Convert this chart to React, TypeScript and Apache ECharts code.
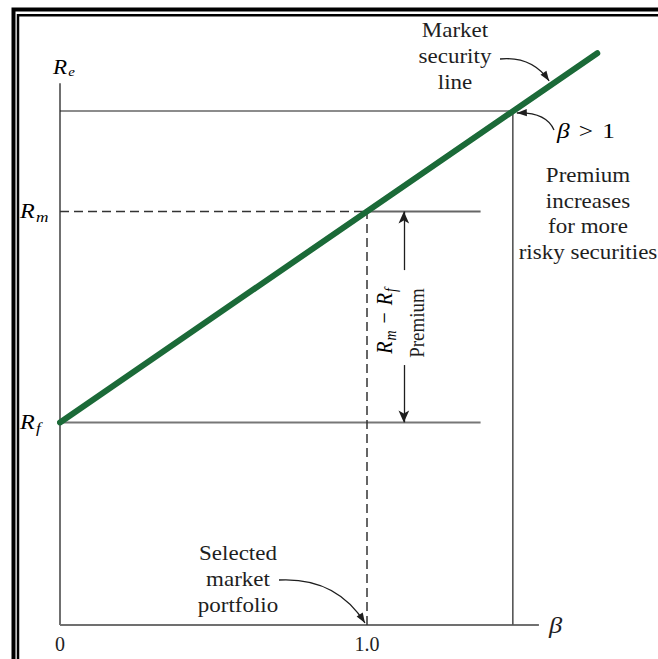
import React, { useEffect, useRef } from "react";
import * as echarts from "echarts";

// ---- data ----
const betaTickValues = [0, 1];
const betaTickLabels = ["0", "1.0"];
const betaAxisEnd = 1.56;
const returnAxisEnd = 12.84;
const betaScaleMax = 1.8;
const returnScaleMax = 14;
const riskFreeReturn = 4.8;
const marketReturn = 9.8;
const marketBeta = 1.0;
const highBeta = 1.475;
const highBetaReturn = 12.18;
const smlPoints: [number, number][] = [
  [0, 4.8],
  [1.75, 13.55],
];
const levelLineEnd = 1.37;
const premiumArrowBeta = 1.12;
const premiumArrowGapTop = 8.41;
const premiumArrowGapBottom = 6.16;
const smlArrowBeta = 1.59;
const smlArrowReturn = 12.75;

const FONT = "'Liberation Serif', 'Times New Roman', 'DejaVu Serif', serif";
const INK = "#1e1e1e";
const SX = 1.15;

const mathRich = (size: number, subSize: number, drop: number, gap = 6) => ({
  r: { fontFamily: FONT, fontStyle: "italic", fontSize: size, color: INK },
  s: { fontFamily: FONT, fontStyle: "italic", fontSize: subSize, color: INK, padding: [drop, 0, 0, 1] },
  n: { fontFamily: FONT, fontSize: size, color: INK, padding: [0, gap, 0, gap] },
});

function arrowHead(tx: number, ty: number, fx: number, fy: number, len = 10, half = 3.6) {
  const dx = tx - fx, dy = ty - fy;
  const d = Math.hypot(dx, dy) || 1;
  const ux = dx / d, uy = dy / d;
  const bx = tx - ux * len, by = ty - uy * len;
  return {
    type: "polygon",
    silent: true,
    z: 20,
    shape: { points: [[tx, ty], [bx - uy * half, by + ux * half], [bx + uy * half, by - ux * half]] },
    style: { fill: INK },
  };
}

function curvedArrow(sx: number, sy: number, cx: number, cy: number, tx: number, ty: number) {
  return [
    {
      type: "bezierCurve",
      silent: true,
      z: 20,
      shape: { x1: sx, y1: sy, cpx1: cx, cpy1: cy, x2: tx, y2: ty },
      style: { stroke: INK, lineWidth: 1.3, fill: null },
    },
    arrowHead(tx, ty, cx, cy),
  ];
}

const seg = (pts: [number, number][], color: string, width: number, dashed = false, z = 3) => ({
  type: "line",
  data: pts,
  showSymbol: false,
  symbol: "none",
  silent: true,
  animation: false,
  z,
  lineStyle: { color, width, type: dashed ? [9, 5] : "solid" },
});

export default function App() {
  const ref = useRef<HTMLDivElement>(null);
  useEffect(() => {
    const chart = echarts.init(ref.current!, null, { renderer: "svg" });
    const option: any = {
      animation: false,
      backgroundColor: "#fff",
      grid: { left: 60, top: 34.2, right: 45.4, bottom: 34, containLabel: false },
      xAxis: {
        type: "value",
        min: 0,
        max: betaScaleMax,
        interval: 0.5,
        axisLine: { show: false },
        axisTick: { show: false },
        splitLine: { show: false },
        axisLabel: {
          margin: 9,
          fontFamily: FONT,
          fontSize: 20,
          color: INK,
          showMaxLabel: false,
          formatter: (v: number) => {
            const i = betaTickValues.findIndex((t) => Math.abs(t - v) < 1e-9);
            return i >= 0 ? betaTickLabels[i] : "";
          },
        },
      },
      yAxis: {
        type: "value",
        min: 0,
        max: returnScaleMax,
        axisLine: { show: false },
        axisTick: { show: false },
        splitLine: { show: false },
        axisLabel: { show: false },
      },
      series: [
        seg([[0, 0], [betaAxisEnd, 0]], "#707070", 2),
        seg([[0, 0], [0, returnAxisEnd]], "#707070", 2),
        seg([[0, highBetaReturn], [highBeta, highBetaReturn]], "#1a1a1a", 1.2),
        seg([[highBeta, 0], [highBeta, highBetaReturn]], "#555", 1.6),
        seg([[0, marketReturn], [marketBeta, marketReturn]], "#333", 1.5, true),
        seg([[marketBeta, marketReturn], [levelLineEnd, marketReturn]], "#666", 2),
        seg([[0, riskFreeReturn], [levelLineEnd, riskFreeReturn]], "#777", 2),
        seg([[marketBeta, 0], [marketBeta, marketReturn]], "#333", 1.5, true),
        {
          type: "line",
          data: [],
          silent: true,
          markLine: {
            silent: true,
            animation: false,
            symbol: ["none", "arrow"],
            symbolSize: [8, 12],
            label: { show: false },
            lineStyle: { color: INK, width: 1.3, type: "solid" },
            data: [
              [{ coord: [premiumArrowBeta, premiumArrowGapTop] }, { coord: [premiumArrowBeta, marketReturn] }],
              [{ coord: [premiumArrowBeta, premiumArrowGapBottom] }, { coord: [premiumArrowBeta, riskFreeReturn] }],
            ],
          },
        },
        {
          type: "line",
          data: smlPoints,
          showSymbol: false,
          symbol: "none",
          silent: true,
          z: 6,
          lineStyle: { color: "#1b6a38", width: 6, cap: "round" },
        },
      ],
    };
    chart.setOption(option);

    const px = (p: [number, number]) => chart.convertToPixel({ gridIndex: 0 }, p) as number[];
    const origin = px([0, 0]);
    const xEnd = px([betaAxisEnd, 0]);
    const yEnd = px([0, returnAxisEnd]);
    const rm = px([0, marketReturn]);
    const rf = px([0, riskFreeReturn]);
    const hi = px([highBeta, highBetaReturn]);
    const mk = px([marketBeta, 0]);
    const sm = px([smlArrowBeta, smlArrowReturn]);
    const pa = px([premiumArrowBeta, (marketReturn + riskFreeReturn) / 2]);

    const block = (x: number, y: number, text: string, size: number) => ({
      type: "text",
      silent: true,
      x,
      y,
      scaleX: SX,
      style: { text, fontFamily: FONT, fontSize: size, fill: INK, lineHeight: 26, align: "center", verticalAlign: "middle" },
    });

    const graphic: any[] = [
      // double frame
      { type: "rect", silent: true, z: 30, shape: { x: 13.5, y: 9.5, width: 700, height: 700 }, style: { fill: null, stroke: "#000", lineWidth: 4 } },
      { type: "rect", silent: true, z: 30, shape: { x: 18, y: 15.2, width: 700, height: 700 }, style: { fill: null, stroke: "#000", lineWidth: 2.5 } },
      // axis names
      { type: "text", silent: true, x: origin[0] - 7, y: yEnd[1] - 16, scaleX: SX, style: { text: "{r|R}{s|e}", rich: mathRich(20, 13, 10), align: "left", verticalAlign: "middle" } },
      { type: "text", silent: true, x: xEnd[0] + 10, y: xEnd[1], scaleX: SX, style: { text: "β", fontFamily: FONT, fontStyle: "italic", fontSize: 23, fill: INK, align: "left", verticalAlign: "middle" } },
      // y labels
      { type: "text", silent: true, x: 20, y: rm[1], scaleX: SX, style: { text: "{r|R}{s|m}", rich: mathRich(21, 15, 11), align: "left", verticalAlign: "middle" } },
      { type: "text", silent: true, x: 20, y: rf[1], scaleX: SX, style: { text: "{r|R}{s|f}", rich: mathRich(21, 15, 11), align: "left", verticalAlign: "middle" } },
      // premium rotated labels
      { type: "text", silent: true, x: pa[0] - 19, y: pa[1] + 4, rotation: Math.PI / 2, scaleY: SX, style: { text: "{r|R}{s|m}{n|−}{r|R}{s|f}", rich: mathRich(20, 14, 10, 7), align: "center", verticalAlign: "middle" } },
      { type: "text", silent: true, x: pa[0] + 13, y: pa[1] + 6, rotation: Math.PI / 2, scaleY: SX, style: { text: "Premium", fontFamily: FONT, fontSize: 19, fill: INK, align: "center", verticalAlign: "middle" } },
      // annotations
      block(455, 57, "Market\nsecurity\nline", 20),
      { type: "text", silent: true, x: 557, y: 131, scaleX: SX, style: { text: "{b|β}{n|>}{d|1}", rich: { b: { fontFamily: FONT, fontStyle: "italic", fontSize: 22, color: INK }, n: { fontFamily: FONT, fontSize: 22, color: INK, padding: [0, 8, 0, 8] }, d: { fontFamily: FONT, fontSize: 22, color: INK } }, align: "left", verticalAlign: "middle" } },
      block(588, 214, "Premium\nincreases\nfor more\nrisky securities", 20),
      block(238, 580, "Selected\nmarket\nportfolio", 20),
      ...curvedArrow(500, 59, 532, 56, sm[0] + 1, sm[1] - 6),
      ...curvedArrow(554, 130, 546, 112, hi[0] + 4, hi[1] + 2),
      ...curvedArrow(279, 580, 336, 577, mk[0] - 2, mk[1] - 2),
    ];
    chart.setOption({ graphic });
    return () => chart.dispose();
  }, []);
  return (
    <div
      ref={ref}
      style={{ position: "absolute", left: 0, top: 0, width: 658, height: 659, background: "#fff" }}
    />
  );
}
